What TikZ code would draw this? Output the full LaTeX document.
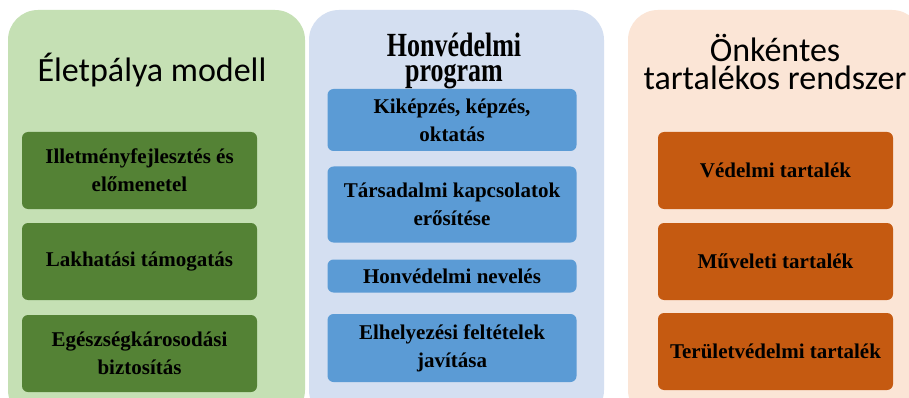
\documentclass[tikz,border=0pt]{standalone}
\usepackage{fontspec}
\usepackage{graphicx}
\setmainfont{Liberation Serif}
\newfontfamily\timesfont{Liberation Serif}
\newfontfamily\calibri{Carlito}
\definecolor{greenbg}{HTML}{C5E0B4}
\definecolor{greenbox}{HTML}{548235}
\definecolor{bluebg}{HTML}{D4DFF1}
\definecolor{bluebox}{HTML}{5B9BD5}
\definecolor{orangebg}{HTML}{FBE5D6}
\definecolor{orangebox}{HTML}{C55A11}
\newcommand\tallline[1]{\scalebox{1}[1.3]{#1}}

\tikzset{
    panel/.style={rounded corners=30pt},
    sanstitle/.style={anchor=base, inner sep=0pt, font=\calibri\fontsize{34}{34}\selectfont},
    seriftitle/.style={anchor=base, inner sep=0pt, align=center,
        font=\timesfont\bfseries\fontsize{26}{25}\selectfont},
    item/.style={rounded corners=6pt, align=center, inner sep=0pt, text=black,
        font=\timesfont\bfseries\fontsize{21}{28}\selectfont},
    greenitem/.style={item, fill=greenbox, minimum width=235pt, minimum height=77pt},
    blueitem/.style={item, fill=bluebox, minimum width=249pt},
    orangeitem/.style={item, fill=orangebox, minimum width=235pt, minimum height=77pt}
}

\begin{document}
\begin{tikzpicture}[x=1pt,y=-1pt]
    \clip (0,0) rectangle (909,398);
    \fill[white] (0,0) rectangle (909,398);
    % panels
    \fill[panel,greenbg] (8,10) rectangle (305,420);
    \fill[panel,bluebg] (309,10) rectangle (604,420);
    \fill[panel,orangebg] (628,10) rectangle (922,420);
    % titles (base = last line)
    \node[sanstitle] (eletpalya) at (152,82) {Életpálya modell};
    \node[seriftitle] (honved) at (454,82) {\tallline{Honvédelmi}\\\tallline{program}};
    \node[sanstitle, align=center, font=\calibri\fontsize{34}{28}\selectfont] (onkentes) at (775,90) {Önkéntes\\tartalékos rendszer};
    % first column
    \node[greenitem] (illetmeny) at (139.5,170.5) {Illetményfejlesztés és\\előmenetel};
    \node[greenitem] (lakhatas) at (139.5,261.5) {Lakhatási támogatás};
    \node[greenitem] (egeszseg) at (139.5,353.5) {Egészségkárosodási\\biztosítás};
    % second column
    \node[blueitem, minimum height=62pt] (kikepzes) at (452,120) {Kiképzés, képzés,\\oktatás};
    \node[blueitem, minimum height=76pt] (tarsadalmi) at (452,204.5) {Társadalmi kapcsolatok\\erősítése};
    \node[blueitem, minimum height=33pt] (neveles) at (452,276) {Honvédelmi nevelés};
    \node[blueitem, minimum height=68pt] (elhelyezes) at (452,348) {Elhelyezési feltételek\\javítása};
    % third column
    \node[orangeitem] (vedelmi) at (775.5,170.5) {Védelmi tartalék};
    \node[orangeitem] (muveleti) at (775.5,261.5) {Műveleti tartalék};
    \node[orangeitem] (teruleti) at (775.5,351.5) {Területvédelmi tartalék};
\end{tikzpicture}
\end{document}
